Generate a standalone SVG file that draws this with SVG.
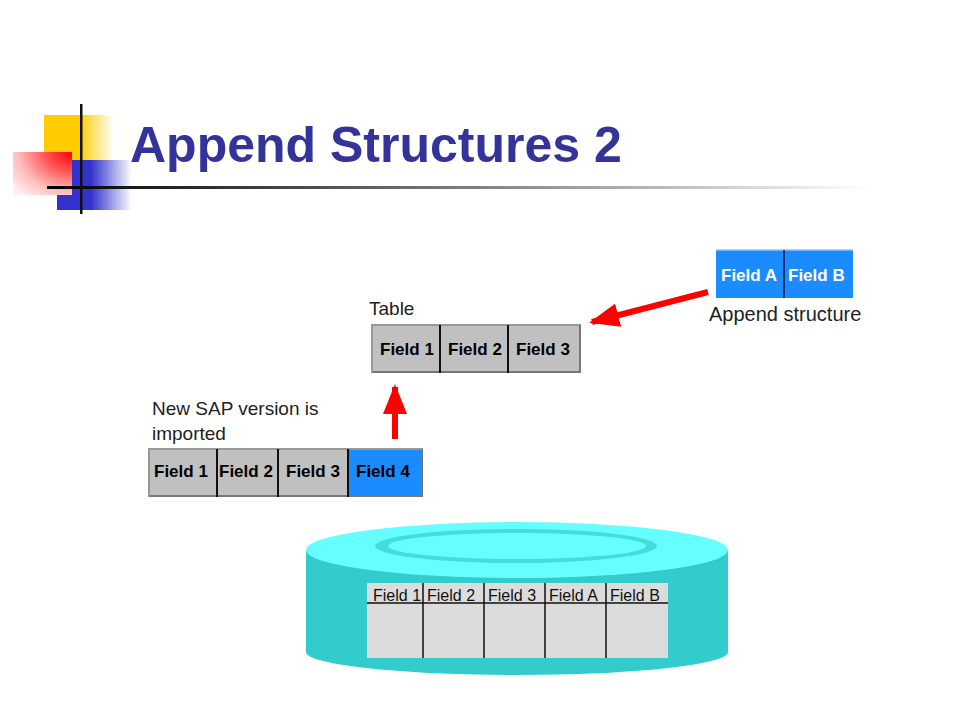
<svg xmlns="http://www.w3.org/2000/svg" width="960" height="720" viewBox="0 0 960 720">
<defs>
<linearGradient id="gY" x1="0" y1="0" x2="1" y2="0"><stop offset="0.5" stop-color="#ffcc00"/><stop offset="1" stop-color="#ffcc00" stop-opacity="0"/></linearGradient>
<linearGradient id="gB" x1="0" y1="0" x2="1" y2="0"><stop offset="0.45" stop-color="#3333cc"/><stop offset="1" stop-color="#3333cc" stop-opacity="0"/></linearGradient>
<radialGradient id="gR" cx="1" cy="0" r="1.3" fx="1" fy="0"><stop offset="0" stop-color="#ff0000"/><stop offset="0.35" stop-color="#ff5555"/><stop offset="0.7" stop-color="#ffbbbb"/><stop offset="1" stop-color="#fff0f0"/></radialGradient>
<linearGradient id="gL" x1="0" y1="0" x2="1" y2="0"><stop offset="0" stop-color="#000"/><stop offset="0.35" stop-color="#555"/><stop offset="0.75" stop-color="#bbb"/><stop offset="1" stop-color="#fff"/></linearGradient>
<marker id="ah" markerWidth="5" markerHeight="4" refX="4.5" refY="2" orient="auto" markerUnits="strokeWidth"><path d="M0,0 L5,2 L0,4 Z" fill="#ff0000"/></marker>
<style>
.fb{font-family:"Liberation Sans",Arial,sans-serif;font-weight:bold;font-size:17px;fill:#000}
.fw{font-family:"Liberation Sans",Arial,sans-serif;font-weight:bold;font-size:17px;fill:#fff}
.lbl{font-family:"Liberation Sans",Arial,sans-serif;font-size:19px;fill:#222}
.sm{font-family:"Liberation Sans",Arial,sans-serif;font-size:16px;fill:#111}
.gray{fill:#c0c0c0}
.blue{fill:#1a8cff}
.div{stroke:#111;stroke-width:2}
.edgeT{stroke:#999;stroke-width:2}
.edgeB{stroke:#777;stroke-width:2}
.arr{stroke:#ff0000;stroke-width:6;fill:none}
</style>
</defs>
<rect width="960" height="720" fill="#fff"/>
<g id="logo">
<rect x="44" y="115" width="70" height="46" fill="url(#gY)"/>
<rect x="57" y="160" width="75" height="50" fill="url(#gB)"/>
<rect x="13" y="152" width="59" height="43" fill="url(#gR)"/>
<rect x="47" y="186" width="823" height="3" fill="url(#gL)"/>
<rect x="80" y="104" width="2.5" height="110" fill="#111"/>
</g>
<g id="title"><text x="130" y="162" style="font-family:'Liberation Sans',Arial,sans-serif;font-weight:bold;font-size:50px" fill="#333399">Append Structures 2</text></g>

<g id="table">
<text class="lbl" x="369" y="315">Table</text>
<rect class="gray" x="371" y="325" width="210" height="48"/>
<line class="edgeT" x1="371" y1="325" x2="581" y2="325"/>
<line class="edgeB" x1="371" y1="372" x2="581" y2="372"/>
<line class="edgeT" x1="372" y1="325" x2="372" y2="373"/>
<line class="edgeB" x1="580" y1="325" x2="580" y2="373"/>
<line class="div" x1="440" y1="325" x2="440" y2="373"/>
<line class="div" x1="508" y1="325" x2="508" y2="373"/>
<text class="fb" x="380" y="355">Field 1</text>
<text class="fb" x="448" y="355">Field 2</text>
<text class="fb" x="516" y="355">Field 3</text>
</g>

<g id="append">
<rect class="blue" x="716" y="250" width="137" height="48"/>
<line x1="716" y1="250" x2="853" y2="250" stroke="#8cc6ff" stroke-width="1.5"/>
<line x1="784" y1="250" x2="784" y2="298" stroke="#114" stroke-width="1.5"/>
<text class="fw" x="721" y="281">Field A</text>
<text class="fw" x="788" y="281">Field B</text>
<text class="lbl" x="709" y="321" style="font-size:20px">Append structure</text>
</g>

<g id="newsap">
<text class="lbl" x="152" y="415">New SAP version is</text>
<text class="lbl" x="152" y="440">imported</text>
<rect class="gray" x="148" y="449" width="200" height="48"/>
<rect class="blue" x="348" y="449" width="75" height="48"/>
<line class="edgeT" x1="148" y1="449" x2="423" y2="449"/>
<line class="edgeB" x1="148" y1="496" x2="423" y2="496"/>
<line class="edgeT" x1="149" y1="449" x2="149" y2="497"/>
<line class="edgeB" x1="422" y1="449" x2="422" y2="497"/>
<line class="div" x1="217" y1="449" x2="217" y2="497"/>
<line class="div" x1="278" y1="449" x2="278" y2="497"/>
<line class="div" x1="348" y1="449" x2="348" y2="497"/>
<text class="fb" x="154" y="477">Field 1</text>
<text class="fb" x="219" y="477">Field 2</text>
<text class="fb" x="286" y="477">Field 3</text>
<text class="fb" x="356" y="477">Field 4</text>
</g>

<g id="database">
<path d="M306,550 L306,652 A211,23 0 0 0 728,652 L728,550 Z" fill="#33cccc"/>
<ellipse cx="517" cy="550" rx="211" ry="28" fill="#66ffff"/>
<ellipse cx="516" cy="546" rx="141" ry="17" fill="#44dddd"/>
<ellipse cx="517" cy="546" rx="129" ry="13" fill="#66ffff"/>
<rect x="367" y="583" width="301" height="75" fill="#dcdcdc"/>
<line x1="367" y1="603" x2="668" y2="603" stroke="#111" stroke-width="1.5"/>
<line x1="423" y1="583" x2="423" y2="658" stroke="#111" stroke-width="1.5"/>
<line x1="484" y1="583" x2="484" y2="658" stroke="#111" stroke-width="1.5"/>
<line x1="545" y1="583" x2="545" y2="658" stroke="#111" stroke-width="1.5"/>
<line x1="606" y1="583" x2="606" y2="658" stroke="#111" stroke-width="1.5"/>
<text class="sm" x="373" y="601">Field 1</text>
<text class="sm" x="427" y="601">Field 2</text>
<text class="sm" x="488" y="601">Field 3</text>
<text class="sm" x="549" y="601">Field A</text>
<text class="sm" x="610" y="601">Field B</text>
</g>

<g id="connectors">
<line class="arr" x1="708" y1="292" x2="592" y2="322" marker-end="url(#ah)"/>
<line class="arr" x1="395" y1="439" x2="395" y2="387" marker-end="url(#ah)"/>
</g>
</svg>
